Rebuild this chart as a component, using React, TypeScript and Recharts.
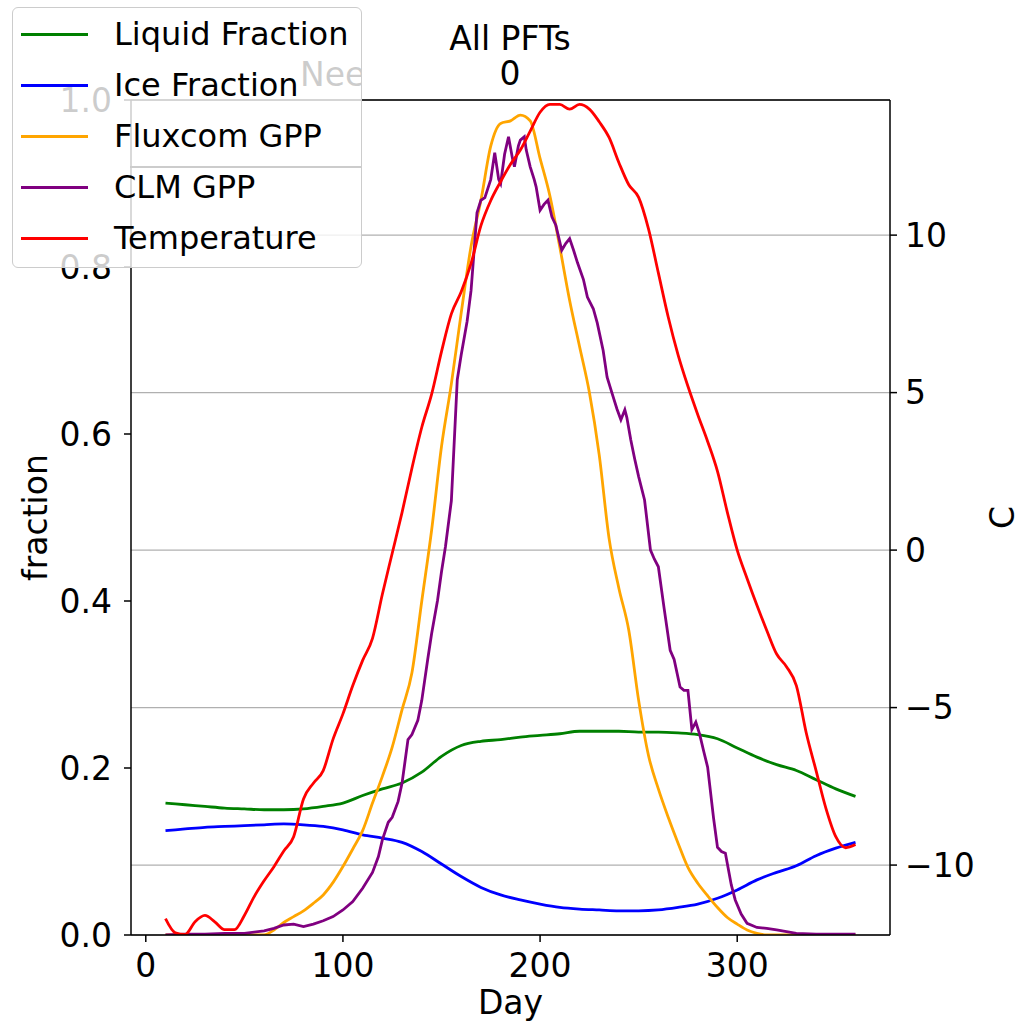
import {
  CartesianGrid,
  Label,
  Legend,
  Line,
  LineChart,
  ReferenceLine,
  XAxis,
  YAxis,
} from "recharts";

const FONT = "'DejaVu Sans', sans-serif";

// day grids the values were read at
const days10 = Array.from({ length: 36 }, (_, i) => 10 + i * 10);
const days5 = Array.from({ length: 71 }, (_, i) => 10 + i * 5);

const liquidFraction = [
  0.158, 0.156, 0.154, 0.152, 0.151, 0.15, 0.15, 0.151, 0.154, 0.158,
  0.167, 0.175, 0.182, 0.195, 0.214, 0.227, 0.232, 0.234, 0.237, 0.239,
  0.241, 0.244, 0.244, 0.244, 0.243, 0.243, 0.242, 0.24, 0.235, 0.224,
  0.213, 0.204, 0.197, 0.186, 0.175, 0.166,
];

const iceFraction = [
  0.125, 0.127, 0.129, 0.13, 0.131, 0.132, 0.133, 0.132, 0.13, 0.126,
  0.12, 0.116, 0.111, 0.1, 0.085, 0.07, 0.057, 0.048, 0.042, 0.037,
  0.033, 0.031, 0.03, 0.029, 0.029, 0.03, 0.033, 0.037, 0.044, 0.054,
  0.066, 0.075, 0.083, 0.095, 0.104, 0.111,
];

const fluxcomGpp = [
  0, 0, 0, 0, 0, 0, 0, 0, 0, 0, 0,
  0.006, 0.015, 0.022, 0.029, 0.038, 0.048, 0.063, 0.082,
  0.103, 0.125, 0.158, 0.19, 0.225, 0.27, 0.314, 0.4, 0.485, 0.585,
  0.66, 0.745, 0.825, 0.88, 0.945, 0.972, 0.975, 0.982, 0.975, 0.93,
  0.885, 0.824, 0.76, 0.705, 0.65, 0.575, 0.475, 0.415, 0.365, 0.281,
  0.215, 0.175, 0.141, 0.11, 0.081, 0.062, 0.047, 0.033, 0.021, 0.013,
  0.006, 0.002,
  0, 0, 0, 0, 0, 0, 0, 0, 0, 0,
];

const temperature = [
  -11.7, -12.15, -12.2, -11.8, -11.6, -11.8, -12.05, -12.05, -11.6, -11.0,
  -10.5, -10.05, -9.55, -9.1, -7.9, -7.4, -7.0, -6.0, -5.2, -4.3,
  -3.5, -2.8, -1.4, -0.1, 1.2, 2.6, 3.9, 4.95, 6.3, 7.5,
  8.2, 9.1, 10.3, 11.1, 11.7, 12.25, 12.7, 13.3, 13.9, 14.15,
  14.15, 14.0, 14.15, 14.0, 13.6, 13.1, 12.3, 11.6, 11.2, 10.2,
  8.8, 7.4, 6.2, 5.2, 4.3, 3.45, 2.5, 1.2, 0.0, -0.9,
  -1.75, -2.55, -3.3, -3.7, -4.3, -5.8, -7.0, -8.2, -9.1, -9.45,
  -9.35,
];

const clmDays = [
  10, 20, 30, 40, 50, 60,
  65, 70, 75, 80, 85, 90, 95, 100,
  105, 110, 115, 118, 120, 123, 125, 128, 130, 133,
  135, 138, 140, 143, 145, 148, 150, 152, 155, 158,
  160, 163, 165, 168, 170, 172, 175, 177, 179, 180,
  182, 184, 186, 187, 189, 190, 192, 193, 195, 197,
  198, 200, 202, 204, 206, 208, 211, 213, 215, 217,
  219, 222, 224, 227, 229, 232, 234, 237, 239, 241,
  243, 244, 246, 248, 250, 253, 256, 258, 260, 263,
  266, 268, 271, 273, 275, 277, 279, 281, 283, 285,
  288, 290, 292, 294, 297, 299, 302, 305, 310, 315,
  320, 325, 330, 340, 350, 360,
];

const clmGpp = [
  0, 0.001, 0.001, 0.002, 0.002, 0.005,
  0.008, 0.012, 0.013, 0.01, 0.013, 0.017, 0.022, 0.03,
  0.04, 0.056, 0.075, 0.094, 0.114, 0.135, 0.141, 0.16, 0.182, 0.234,
  0.24, 0.257, 0.281, 0.33, 0.361, 0.401, 0.435, 0.465, 0.52, 0.665,
  0.695, 0.735, 0.772, 0.865, 0.88, 0.883, 0.905, 0.937, 0.905, 0.9,
  0.935, 0.956, 0.93, 0.92, 0.945, 0.952, 0.956, 0.94, 0.92, 0.905,
  0.896, 0.868, 0.875, 0.88, 0.86, 0.85, 0.82, 0.828, 0.834, 0.82,
  0.805, 0.785, 0.764, 0.75, 0.733, 0.7, 0.668, 0.645, 0.63, 0.617,
  0.629, 0.62, 0.593, 0.57, 0.549, 0.521, 0.461, 0.45, 0.441, 0.39,
  0.341, 0.33, 0.297, 0.293, 0.293, 0.246, 0.255, 0.24, 0.22, 0.201,
  0.14, 0.105, 0.1, 0.098, 0.06, 0.042, 0.025, 0.014, 0.009, 0.008,
  0.006, 0.004, 0.002, 0.001, 0.001, 0.001,
];

const leftTicks = [0, 0.2, 0.4, 0.6, 0.8, 1.0];
const rightTicks = [-10, -5, 0, 5, 10];
const dayTicks = [0, 100, 200, 300];

function toPoints(days: number[], values: number[]) {
  return days.map((day, i) => ({ day, value: values[i] }));
}

const series = [
  { name: "Liquid Fraction", color: "#008000", axis: "left", curve: "monotone", data: toPoints(days10, liquidFraction) },
  { name: "Ice Fraction", color: "#0000ff", axis: "left", curve: "monotone", data: toPoints(days10, iceFraction) },
  { name: "Fluxcom GPP", color: "#ffa500", axis: "left", curve: "monotone", data: toPoints(days5, fluxcomGpp) },
  { name: "CLM GPP", color: "#800080", axis: "left", curve: "linear", data: toPoints(clmDays, clmGpp) },
  { name: "Temperature", color: "#ff0000", axis: "right", curve: "monotone", data: toPoints(days5, temperature) },
] as const;

const seriesOrder = series.map((s) => s.name as string);

const tickStyle = { fill: "#000", fontSize: 33, fontFamily: FONT };
const minus = (v: number) => String(v).replace("-", "\u2212");

function LegendBox({ payload }: { payload?: any[] }) {
  const items = [...(payload ?? [])].sort(
    (a, b) => seriesOrder.indexOf(a.value) - seriesOrder.indexOf(b.value),
  );
  return (
    <div
      style={{
        position: "relative",
        width: 350,
        height: 261,
        boxSizing: "border-box",
        background: "rgba(255,255,255,0.8)",
        border: "1.5px solid #cccccc",
        borderRadius: 6,
        fontFamily: FONT,
        fontSize: 32,
      }}
    >
      {items.map((entry, i) => (
        <div
          key={entry.value}
          style={{
            position: "absolute",
            left: 0,
            top: 6 + i * 51,
            height: 40,
            display: "flex",
            alignItems: "center",
            whiteSpace: "nowrap",
          }}
        >
          <span
            style={{
              display: "inline-block",
              marginLeft: 8,
              width: 67,
              height: 3,
              background: entry.color,
            }}
          />
          <span style={{ marginLeft: 26, color: "#000", lineHeight: "40px" }}>
            {entry.value}
          </span>
        </div>
      ))}
    </div>
  );
}

export default function App() {
  return (
    <div
      style={{
        position: "absolute",
        left: 0,
        top: 0,
        width: 1016,
        height: 1025,
        background: "#fff",
        fontFamily: FONT,
        overflow: "hidden",
      }}
    >
      {/* title of the neighbouring panel, seen through the legend */}
      <div
        style={{
          position: "absolute",
          left: 300,
          top: 56,
          width: 61,
          overflow: "hidden",
          fontSize: 33,
          lineHeight: "38px",
          color: "#000",
        }}
      >
        Nee
      </div>
      <div
        style={{
          position: "absolute",
          left: 130,
          top: 166,
          width: 232,
          height: 1.5,
          background: "#000",
        }}
      />
      <div
        style={{
          position: "absolute",
          left: 310,
          top: 21,
          width: 400,
          textAlign: "center",
          fontSize: 33,
          lineHeight: "35px",
          color: "#000",
        }}
      >
        All PFTs
        <br />0
      </div>

      <div style={{ position: "absolute", left: 0, top: 0 }}>
        <LineChart
          width={1016}
          height={1025}
          margin={{ top: 100, right: 0, bottom: 0, left: 0 }}
        >
          <CartesianGrid
            yAxisId="right"
            vertical={false}
            stroke="#b0b0b0"
            strokeWidth={1.3}
          />
          <XAxis
            type="number"
            dataKey="day"
            domain={[-7.5, 377.5]}
            ticks={dayTicks}
            allowDataOverflow
            height={90}
            tick={tickStyle}
            tickSize={7}
            tickMargin={12}
            axisLine={{ stroke: "#000", strokeWidth: 1.5 }}
            tickLine={{ stroke: "#000", strokeWidth: 1.5 }}
          >
            <Label
              value="Day"
              position="insideBottom"
              offset={11}
              style={{ fill: "#000", fontSize: 33, fontFamily: FONT }}
            />
          </XAxis>
          <YAxis
            yAxisId="left"
            domain={[0, 1]}
            ticks={leftTicks}
            allowDataOverflow
            width={131}
            tick={tickStyle}
            tickFormatter={(v: number) => v.toFixed(1)}
            tickSize={7}
            tickMargin={12}
            axisLine={{ stroke: "#000", strokeWidth: 1.5 }}
            tickLine={{ stroke: "#000", strokeWidth: 1.5 }}
          >
            <Label
              value="fraction"
              angle={-90}
              position="insideLeft"
              offset={35}
              style={{ fill: "#000", fontSize: 33, fontFamily: FONT, textAnchor: "middle" }}
            />
          </YAxis>
          <YAxis
            yAxisId="right"
            orientation="right"
            domain={[-12.22, 14.29]}
            ticks={rightTicks}
            allowDataOverflow
            width={126}
            tick={tickStyle}
            tickFormatter={minus}
            tickSize={7}
            tickMargin={8}
            axisLine={{ stroke: "#000", strokeWidth: 1.5 }}
            tickLine={{ stroke: "#000", strokeWidth: 1.5 }}
          >
            <Label
              value="C"
              angle={-90}
              position="insideRight"
              offset={14}
              style={{ fill: "#000", fontSize: 33, fontFamily: FONT, textAnchor: "middle" }}
            />
          </YAxis>
          <ReferenceLine yAxisId="left" y={1} stroke="#000" strokeWidth={1.5} />
          <Legend
            layout="vertical"
            align="center"
            verticalAlign="middle"
            content={<LegendBox />}
            wrapperStyle={{ left: 12, top: 7, width: 350, height: 261 }}
          />
          {series.map((s) => (
            <Line
              key={s.name}
              name={s.name}
              data={s.data}
              dataKey="value"
              yAxisId={s.axis}
              type={s.curve}
              stroke={s.color}
              strokeWidth={2.8}
              dot={false}
              activeDot={false}
              isAnimationActive={false}
            />
          ))}
        </LineChart>
      </div>
    </div>
  );
}
